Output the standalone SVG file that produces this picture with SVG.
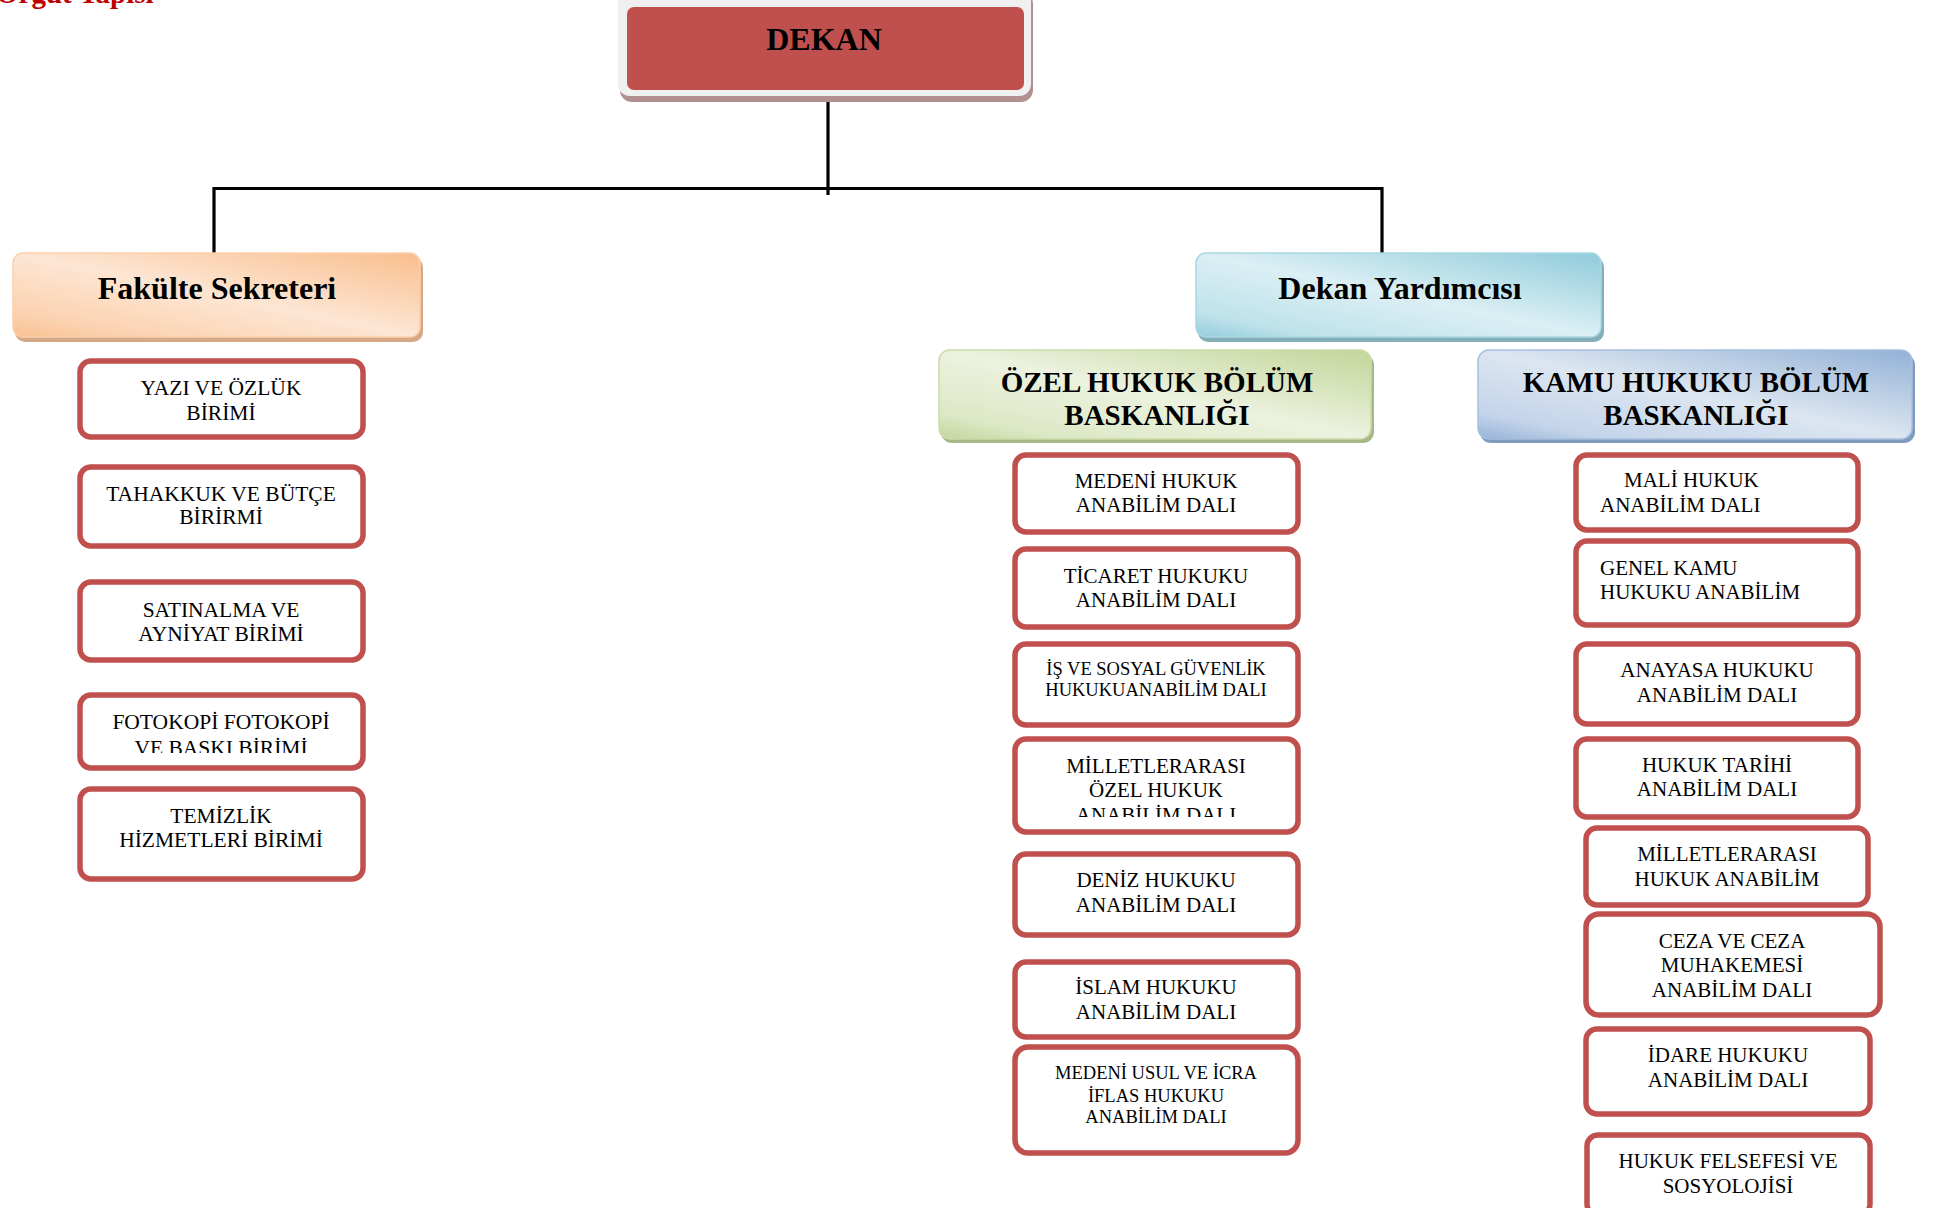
<svg xmlns="http://www.w3.org/2000/svg" width="1939" height="1208" viewBox="0 0 1939 1208">
<style>
.t{font-family:"Liberation Serif","Times New Roman",serif;fill:#000;text-anchor:middle}
.b{font-weight:bold}
.s21{font-size:21px}
.s22{font-size:21.5px}
.s18{font-size:18.5px}
.box{fill:#fff;stroke:#c0504d;stroke-width:5.5}
.conn{stroke:#000;stroke-width:3.2;fill:none}
</style>
<defs>
<linearGradient id="gOr" x1="1" y1="0" x2="0" y2="1">
<stop offset="0" stop-color="#f9be8c"/><stop offset="0.5" stop-color="#fde6d4"/><stop offset="0.85" stop-color="#fbd2b0"/><stop offset="1" stop-color="#f9c08f"/>
</linearGradient>
<linearGradient id="gBl" x1="1" y1="0" x2="0" y2="1">
<stop offset="0" stop-color="#8fcbdb"/><stop offset="0.5" stop-color="#dbeff4"/><stop offset="0.85" stop-color="#bfe2eb"/><stop offset="1" stop-color="#93cddd"/>
</linearGradient>
<linearGradient id="gGr" x1="1" y1="0" x2="0" y2="1">
<stop offset="0" stop-color="#c2d598"/><stop offset="0.5" stop-color="#ecf2df"/><stop offset="0.85" stop-color="#dde8c6"/><stop offset="1" stop-color="#c3d69b"/>
</linearGradient>
<linearGradient id="gKb" x1="1" y1="0" x2="0" y2="1">
<stop offset="0" stop-color="#92b1d6"/><stop offset="0.5" stop-color="#dce6f1"/><stop offset="0.85" stop-color="#c4d4ea"/><stop offset="1" stop-color="#95b3d7"/>
</linearGradient>
<clipPath id="clipFoto"><rect x="80" y="690" width="283" height="63"/></clipPath>
<clipPath id="clipMil"><rect x="1015" y="740" width="283" height="77"/></clipPath>
</defs>
<rect x="0" y="0" width="1939" height="1208" fill="#fff"/>

<text class="t b" x="-4" y="3" style="font-size:29px;fill:#c00000;text-anchor:start">Örgüt Yapısı</text>

<g id="connectors">
<line class="conn" x1="828" y1="96" x2="828" y2="195"/>
<polyline class="conn" points="214,254 214,188.5 1382,188.5 1382,256"/>
</g>

<g id="dekan">
<rect x="620" y="-8" width="413" height="110" rx="12" fill="#b39090"/>
<rect x="618" y="-10" width="413" height="106" rx="12" fill="#f0f0f0"/>
<rect x="627" y="7" width="397" height="83" rx="7" fill="#c0504d"/>
<text class="t b" x="824" y="50" style="font-size:32px">DEKAN</text>
</g>

<g id="fakulte-sekreteri">
<rect x="15" y="257" width="408" height="85" rx="10" fill="#d6a888"/>
<rect x="13" y="253" width="407" height="84" rx="10" fill="url(#gOr)" stroke="#fbd0ac" stroke-width="1.5"/>
<text class="t b" x="217" y="299" style="font-size:32px">Fakülte Sekreteri</text>
</g>

<g id="dekan-yardimcisi">
<rect x="1198" y="257" width="406" height="85" rx="10" fill="#86aeb8"/>
<rect x="1196" y="253" width="405" height="84" rx="10" fill="url(#gBl)" stroke="#a9d8e4" stroke-width="1.5"/>
<text class="t b" x="1400" y="299" style="font-size:32px">Dekan Yardımcısı</text>
</g>

<g id="ozel-hukuk">
<rect x="941" y="354" width="433" height="89" rx="11" fill="#a6b888"/>
<rect x="939" y="350" width="432" height="89" rx="11" fill="url(#gGr)" stroke="#cbdca8" stroke-width="1.5"/>
<text class="t b" x="1157" y="392" style="font-size:29px">ÖZEL HUKUK BÖLÜM</text>
<text class="t b" x="1157" y="425" style="font-size:29px">BASKANLIĞI</text>
</g>

<g id="kamu-hukuku">
<rect x="1480" y="354" width="435" height="89" rx="11" fill="#7f9bbd"/>
<rect x="1478" y="350" width="434" height="89" rx="11" fill="url(#gKb)" stroke="#a8c0de" stroke-width="1.5"/>
<text class="t b" x="1696" y="392" style="font-size:29px">KAMU HUKUKU BÖLÜM</text>
<text class="t b" x="1696" y="425" style="font-size:29px">BASKANLIĞI</text>
</g>

<g id="yazi-ozluk">
<rect class="box" x="80" y="361" width="283" height="76" rx="11"/>
<text class="t s22" x="221" y="395">YAZI VE ÖZLÜK</text>
<text class="t s22" x="221" y="420">BİRİMİ</text>
</g>
<g id="tahakkuk">
<rect class="box" x="80" y="467" width="283" height="79" rx="11"/>
<text class="t s22" x="221" y="501">TAHAKKUK VE BÜTÇE</text>
<text class="t s22" x="221" y="524">BİRİRMİ</text>
</g>
<g id="satinalma">
<rect class="box" x="80" y="582" width="283" height="78" rx="11"/>
<text class="t s22" x="221" y="617">SATINALMA VE</text>
<text class="t s22" x="221" y="641">AYNİYAT BİRİMİ</text>
</g>
<g id="fotokopi">
<rect class="box" x="80" y="695" width="283" height="73" rx="11"/>
<text class="t s22" x="221" y="729">FOTOKOPİ FOTOKOPİ</text>
<text class="t s22" x="221" y="755" clip-path="url(#clipFoto)">VE BASKI BİRİMİ</text>
</g>
<g id="temizlik">
<rect class="box" x="80" y="789" width="283" height="90" rx="11"/>
<text class="t s22" x="221" y="823">TEMİZLİK</text>
<text class="t s22" x="221" y="847">HİZMETLERİ BİRİMİ</text>
</g>

<g id="medeni-hukuk">
<rect class="box" x="1015" y="455" width="283" height="77" rx="11"/>
<text class="t s21" x="1156" y="488">MEDENİ HUKUK</text>
<text class="t s21" x="1156" y="512">ANABİLİM DALI</text>
</g>
<g id="ticaret-hukuku">
<rect class="box" x="1015" y="549" width="283" height="78" rx="11"/>
<text class="t s21" x="1156" y="583">TİCARET HUKUKU</text>
<text class="t s21" x="1156" y="607">ANABİLİM DALI</text>
</g>
<g id="is-sosyal">
<rect class="box" x="1015" y="644" width="283" height="81" rx="11"/>
<text class="t s18" x="1156" y="675">İŞ VE SOSYAL GÜVENLİK</text>
<text class="t s18" x="1156" y="696">HUKUKUANABİLİM DALI</text>
</g>
<g id="milletlerarasi-ozel">
<rect class="box" x="1015" y="739" width="283" height="93" rx="11"/>
<text class="t s21" x="1156" y="773">MİLLETLERARASI</text>
<text class="t s21" x="1156" y="797">ÖZEL HUKUK</text>
<text class="t s21" x="1156" y="822" clip-path="url(#clipMil)">ANABİLİM DALI</text>
</g>
<g id="deniz-hukuku">
<rect class="box" x="1015" y="854" width="283" height="81" rx="11"/>
<text class="t s21" x="1156" y="887">DENİZ HUKUKU</text>
<text class="t s21" x="1156" y="912">ANABİLİM DALI</text>
</g>
<g id="islam-hukuku">
<rect class="box" x="1015" y="962" width="283" height="75" rx="11"/>
<text class="t s21" x="1156" y="994">İSLAM HUKUKU</text>
<text class="t s21" x="1156" y="1019">ANABİLİM DALI</text>
</g>
<g id="medeni-usul">
<rect class="box" x="1015" y="1047" width="283" height="106" rx="13"/>
<text class="t s18" x="1156" y="1079">MEDENİ USUL VE İCRA</text>
<text class="t s18" x="1156" y="1102">İFLAS HUKUKU</text>
<text class="t s18" x="1156" y="1123">ANABİLİM DALI</text>
</g>

<g id="mali-hukuk">
<rect class="box" x="1576" y="455" width="282" height="75" rx="11"/>
<text class="t s21" x="1624" y="487" style="text-anchor:start">MALİ HUKUK</text>
<text class="t s21" x="1600" y="512" style="text-anchor:start">ANABİLİM DALI</text>
</g>
<g id="genel-kamu">
<rect class="box" x="1576" y="541" width="282" height="84" rx="11"/>
<text class="t s21" x="1600" y="575" style="text-anchor:start">GENEL KAMU</text>
<text class="t s21" x="1600" y="599" style="text-anchor:start">HUKUKU ANABİLİM</text>
</g>
<g id="anayasa">
<rect class="box" x="1576" y="644" width="282" height="80" rx="11"/>
<text class="t s21" x="1717" y="677">ANAYASA HUKUKU</text>
<text class="t s21" x="1717" y="702">ANABİLİM DALI</text>
</g>
<g id="hukuk-tarihi">
<rect class="box" x="1576" y="739" width="282" height="78" rx="11"/>
<text class="t s21" x="1717" y="772">HUKUK TARİHİ</text>
<text class="t s21" x="1717" y="796">ANABİLİM DALI</text>
</g>
<g id="milletlerarasi-hukuk">
<rect class="box" x="1586" y="828" width="282" height="77" rx="11"/>
<text class="t s21" x="1727" y="861">MİLLETLERARASI</text>
<text class="t s21" x="1727" y="886">HUKUK ANABİLİM</text>
</g>
<g id="ceza">
<rect class="box" x="1586" y="914" width="294" height="101" rx="13"/>
<text class="t s21" x="1732" y="948">CEZA VE CEZA</text>
<text class="t s21" x="1732" y="972">MUHAKEMESİ</text>
<text class="t s21" x="1732" y="997">ANABİLİM DALI</text>
</g>
<g id="idare-hukuku">
<rect class="box" x="1586" y="1029" width="284" height="85" rx="11"/>
<text class="t s21" x="1728" y="1062">İDARE HUKUKU</text>
<text class="t s21" x="1728" y="1087">ANABİLİM DALI</text>
</g>
<g id="hukuk-felsefesi">
<rect class="box" x="1587" y="1135" width="283" height="80" rx="11"/>
<text class="t s21" x="1728" y="1168">HUKUK FELSEFESİ VE</text>
<text class="t s21" x="1728" y="1193">SOSYOLOJİSİ</text>
</g>
</svg>
